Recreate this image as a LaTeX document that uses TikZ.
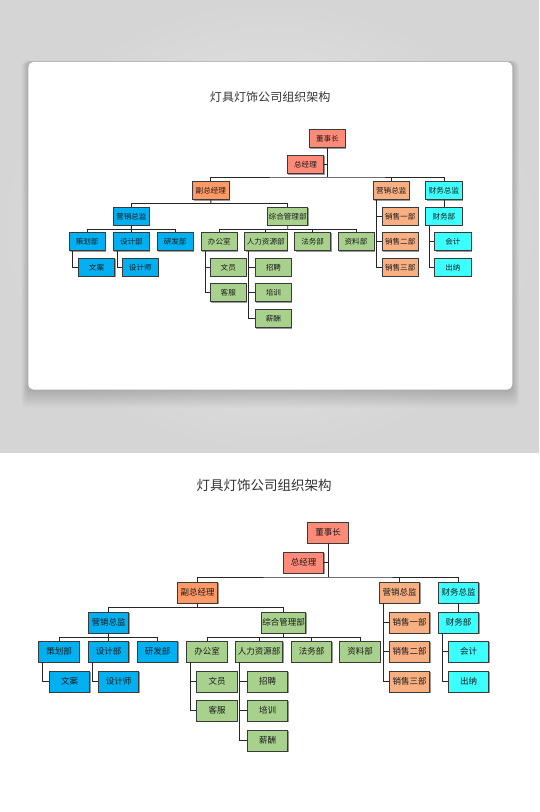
\documentclass[tikz,border=0pt]{standalone}
\usepackage{fontspec}
\newfontfamily\cjk{Noto Sans CJK SC}
\usetikzlibrary{shadows}
\definecolor{cred}{HTML}{FF8A78}
\definecolor{corange}{HTML}{FF9966}
\definecolor{cpeach}{HTML}{F8B083}
\definecolor{ccyan}{HTML}{3CFFFF}
\definecolor{cblue}{HTML}{00B0F0}
\definecolor{cgreen}{HTML}{A9D18E}
\definecolor{cborder}{HTML}{3A3A3A}
\definecolor{bgout}{HTML}{D5D5D5}
\definecolor{bgin}{HTML}{EAEAEA}
\tikzset{
  box/.style={draw=cborder, line width=0.8pt, minimum width=40.5pt, minimum height=21pt,
    inner sep=0pt, text=black!90, font=\cjk\fontsize{8.5}{10}\selectfont,
    drop shadow={shadow xshift=1pt, shadow yshift=-1pt, fill=black!40, opacity=1}},
  wbox/.style={box, minimum width=#1},
  conn/.style={draw=black!85, line width=0.8pt},
  charttitle/.style={font=\cjk\fontsize{13.5}{16}\selectfont, text=black!80, inner sep=0pt}
}
\newcommand\orgchart{%
  \node[charttitle] (title) at (264,-485) {灯具灯饰公司组织架构};
  \node[box, fill=cred] (dsz) at (328,-532.5) {董事长};
  \node[box, fill=cred] (zjl) at (303.5,-562.5) {总经理};
  \node[box, fill=corange] (fzjl) at (197.5,-592.5) {副总经理};
  \node[box, fill=cpeach] (yxzj) at (399.5,-592.5) {营销总监};
  \node[box, fill=ccyan] (cwzj) at (458.5,-592.5) {财务总监};
  \node[box, fill=cblue] (yxzjb) at (108.5,-622.5) {营销总监};
  \node[wbox=44.5pt, fill=cgreen] (zhgl) at (283.5,-622.5) {综合管理部};
  \node[box, fill=cpeach] (xs1) at (409.5,-622.5) {销售一部};
  \node[box, fill=ccyan] (cwb) at (458.5,-622.5) {财务部};
  \node[box, fill=cblue] (chb) at (59,-651.5) {策划部};
  \node[box, fill=cblue] (sjb) at (108.5,-651.5) {设计部};
  \node[box, fill=cblue] (yfb) at (157.5,-651.5) {研发部};
  \node[box, fill=cgreen] (bgs) at (207,-651.5) {办公室};
  \node[wbox=47.5pt, fill=cgreen] (rlzy) at (259,-651.5) {人力资源部};
  \node[box, fill=cgreen] (fwb) at (311.5,-651.5) {法务部};
  \node[box, fill=cgreen] (zlb) at (360,-651.5) {资料部};
  \node[box, fill=cpeach] (xs2) at (409.5,-651.5) {销售二部};
  \node[box, fill=ccyan] (kj) at (468.5,-651.5) {会计};
  \node[box, fill=cblue] (wa) at (69.5,-681.5) {文案};
  \node[box, fill=cblue] (sjs) at (118.5,-681.5) {设计师};
  \node[box, fill=cgreen] (wy) at (217,-681.5) {文员};
  \node[box, fill=cgreen] (zp) at (267.5,-681.5) {招聘};
  \node[box, fill=cpeach] (xs3) at (409.5,-681.5) {销售三部};
  \node[box, fill=ccyan] (cn) at (468.5,-681.5) {出纳};
  \node[box, fill=cgreen] (kf) at (217,-710.5) {客服};
  \node[box, fill=cgreen] (px) at (267.5,-710.5) {培训};
  \node[box, fill=cgreen] (xc) at (267.5,-740.5) {薪酬};
  % connectors
  \coordinate (b1) at (328,-577);
  \draw[conn] (dsz.south) -- (b1);
  \draw[conn] (zjl.east) -- (zjl.east -| dsz.south);
  \draw[conn] (fzjl.north) |- (b1) -| (cwzj.north);
  \draw[conn] (yxzj.north) -- (yxzj.north |- b1);
  \coordinate (b2) at ([yshift=-4pt]fzjl.south);
  \draw[conn] (fzjl.south) -- (b2);
  \draw[conn] (yxzjb.north) |- (b2) -| (zhgl.north);
  \coordinate (b3) at ([yshift=-4pt]yxzjb.south);
  \draw[conn] (yxzjb.south) -- (b3);
  \draw[conn] (chb.north) |- (b3) -| (yfb.north);
  \draw[conn] (sjb.north) -- (b3);
  \coordinate (b4) at ([yshift=-4pt]zhgl.south);
  \draw[conn] (zhgl.south) -- (b4);
  \draw[conn] (bgs.north) |- (b4) -| (zlb.north);
  \draw[conn] (rlzy.north) -- (rlzy.north |- b4);
  \draw[conn] (fwb.north) -- (fwb.north |- b4);
  \draw[conn] ([xshift=4.5pt]chb.south west) |- (wa.west);
  \draw[conn] ([xshift=4.5pt]sjb.south west) |- (sjs.west);
  \draw[conn] ([xshift=4.5pt]bgs.south west) |- (kf.west);
  \draw[conn] ([xshift=4.5pt]bgs.south west |- wy.west) -- (wy.west);
  \draw[conn] ([xshift=4.5pt]rlzy.south west) |- (xc.west);
  \draw[conn] ([xshift=4.5pt]rlzy.south west |- zp.west) -- (zp.west);
  \draw[conn] ([xshift=4.5pt]rlzy.south west |- px.west) -- (px.west);
  \draw[conn] ([xshift=4.5pt]yxzj.south west) |- (xs3.west);
  \draw[conn] ([xshift=4.5pt]yxzj.south west |- xs1.west) -- (xs1.west);
  \draw[conn] ([xshift=4.5pt]yxzj.south west |- xs2.west) -- (xs2.west);
  \draw[conn] (cwzj.south) -- (cwb.north);
  \draw[conn] ([xshift=4.5pt]cwb.south west) |- (cn.west);
  \draw[conn] ([xshift=4.5pt]cwb.south west |- kj.west) -- (kj.west);
}
\begin{document}
\begin{tikzpicture}[x=1pt,y=1pt]
  \useasboundingbox (0,0) rectangle (539,-812);
  \fill[white] (0,0) rectangle (539,-812);
  % gray backdrop
  \shade[inner color=bgin, outer color=bgout] (0,0) rectangle (539,-452);
  % card shadow
  \foreach \i in {1,...,14}{
    \fill[black, opacity=0.011, rounded corners=6]
      (28.3-0.5*\i,-62+0.1*\i) rectangle (512.3+0.5*\i,-389.5-1.3*\i);
  }
  % card
  \fill[white, rounded corners=5] (28.3,-62) rectangle (512.3,-389.5);
  % top (small) chart
  \begin{scope}[name prefix=t-, shift={(34.5,322.1)}, xscale=0.893, yscale=0.865, transform shape]
    \orgchart
  \end{scope}
  % bottom chart
  \begin{scope}[name prefix=b-]
    \orgchart
  \end{scope}
\end{tikzpicture}
\end{document}
